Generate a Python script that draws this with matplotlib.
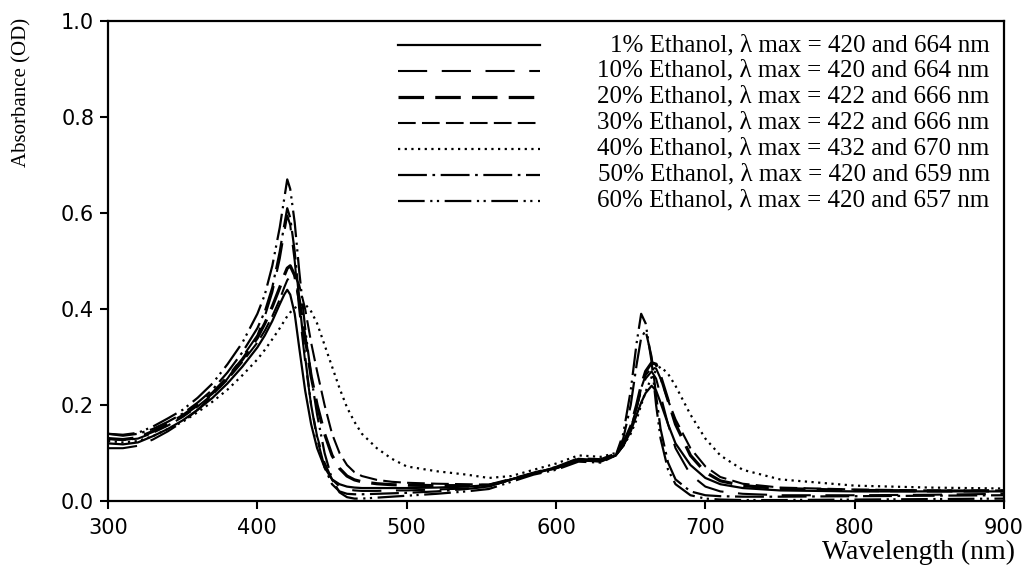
import matplotlib
matplotlib.use("Agg")
import matplotlib.pyplot as plt

# ── Data ────────────────────────────────────────────────────────
WAVELENGTH = [300, 310, 320, 330, 340, 350, 360, 370, 380, 390,
              400, 405, 410, 415, 418, 420, 422, 425, 428, 432,
              436, 440, 445, 450, 455, 460, 465, 470, 480, 490,
              500, 520, 540, 555, 570, 585, 600, 615, 630, 640,
              645, 650, 654, 657, 660, 664, 667, 670, 675, 680,
              690, 700, 710, 725, 750, 800, 850, 900]

ABS_1 = [0.120, 0.118, 0.122, 0.135, 0.150, 0.168, 0.190, 0.215, 0.245, 0.280,
         0.320, 0.345, 0.375, 0.410, 0.430, 0.440, 0.430, 0.390, 0.320, 0.230,
         0.160, 0.110, 0.070, 0.045, 0.035, 0.030, 0.028, 0.027, 0.027, 0.027,
         0.027, 0.028, 0.030, 0.033, 0.045, 0.058, 0.070, 0.085, 0.085, 0.095,
         0.115, 0.145, 0.180, 0.205, 0.225, 0.240, 0.230, 0.205, 0.160, 0.120,
         0.075, 0.048, 0.035, 0.027, 0.022, 0.020, 0.020, 0.020]

ABS_10 = [0.110, 0.110, 0.115, 0.128, 0.145, 0.165, 0.190, 0.220, 0.255, 0.300,
          0.345, 0.385, 0.435, 0.505, 0.560, 0.595, 0.575, 0.500, 0.400, 0.290,
          0.200, 0.135, 0.080, 0.045, 0.030, 0.024, 0.022, 0.021, 0.021, 0.022,
          0.022, 0.024, 0.026, 0.030, 0.045, 0.058, 0.070, 0.088, 0.085, 0.095,
          0.115, 0.150, 0.195, 0.230, 0.255, 0.270, 0.255, 0.220, 0.160, 0.110,
          0.055, 0.030, 0.020, 0.015, 0.012, 0.012, 0.013, 0.015]

ABS_20 = [0.130, 0.128, 0.132, 0.145, 0.160, 0.178, 0.200, 0.225, 0.258, 0.295,
          0.340, 0.370, 0.405, 0.445, 0.470, 0.485, 0.490, 0.470, 0.420, 0.340,
          0.260, 0.200, 0.140, 0.095, 0.068, 0.052, 0.044, 0.040, 0.036, 0.034,
          0.033, 0.032, 0.032, 0.033, 0.045, 0.058, 0.070, 0.088, 0.086, 0.098,
          0.120, 0.155, 0.200, 0.240, 0.270, 0.288, 0.285, 0.260, 0.210, 0.160,
          0.095, 0.060, 0.042, 0.032, 0.026, 0.022, 0.021, 0.021]

ABS_30 = [0.130, 0.127, 0.130, 0.142, 0.157, 0.175, 0.197, 0.222, 0.253, 0.290,
          0.330, 0.355, 0.385, 0.420, 0.445, 0.460, 0.468, 0.470, 0.450, 0.400,
          0.330, 0.270, 0.200, 0.140, 0.100, 0.075, 0.060, 0.052, 0.044, 0.040,
          0.038, 0.036, 0.035, 0.034, 0.045, 0.058, 0.068, 0.085, 0.083, 0.095,
          0.115, 0.150, 0.195, 0.235, 0.262, 0.278, 0.276, 0.255, 0.210, 0.170,
          0.110, 0.072, 0.050, 0.036, 0.028, 0.024, 0.022, 0.022]

ABS_40 = [0.125, 0.122, 0.125, 0.135, 0.150, 0.165, 0.185, 0.207, 0.232, 0.262,
          0.295, 0.315, 0.337, 0.360, 0.375, 0.385, 0.393, 0.402, 0.408, 0.410,
          0.395, 0.370, 0.325, 0.280, 0.235, 0.195, 0.165, 0.140, 0.110, 0.088,
          0.072, 0.062, 0.055, 0.048, 0.052, 0.065, 0.078, 0.095, 0.092, 0.100,
          0.115, 0.140, 0.170, 0.200, 0.228, 0.258, 0.272, 0.280, 0.265, 0.240,
          0.180, 0.130, 0.095, 0.065, 0.045, 0.032, 0.028, 0.026]

ABS_50 = [0.140, 0.136, 0.140, 0.150, 0.165, 0.182, 0.205, 0.232, 0.268, 0.310,
          0.360, 0.395, 0.445, 0.520, 0.575, 0.610, 0.590, 0.520, 0.420, 0.300,
          0.200, 0.130, 0.070, 0.035, 0.020, 0.015, 0.014, 0.014, 0.015, 0.016,
          0.017, 0.020, 0.025, 0.030, 0.045, 0.058, 0.068, 0.085, 0.082, 0.095,
          0.130, 0.200, 0.285, 0.340, 0.355, 0.300, 0.220, 0.150, 0.080, 0.045,
          0.020, 0.012, 0.010, 0.009, 0.009, 0.010, 0.011, 0.012]

ABS_60 = [0.140, 0.138, 0.142, 0.155, 0.172, 0.190, 0.215, 0.245, 0.285, 0.330,
          0.390, 0.430, 0.490, 0.570, 0.630, 0.670, 0.650, 0.580, 0.480, 0.360,
          0.260, 0.180, 0.100, 0.045, 0.018, 0.008, 0.005, 0.005, 0.007, 0.009,
          0.011, 0.015, 0.020, 0.025, 0.040, 0.055, 0.065, 0.082, 0.080, 0.095,
          0.140, 0.230, 0.330, 0.390, 0.370, 0.290, 0.200, 0.130, 0.065, 0.035,
          0.012, 0.005, 0.003, 0.002, 0.002, 0.003, 0.004, 0.005]

ETHANOL   = [1, 10, 20, 30, 40, 50, 60]
SORET_MAX = [420, 420, 422, 422, 432, 420, 420]
Q_MAX     = [664, 664, 666, 666, 670, 659, 657]
SERIES    = [ABS_1, ABS_10, ABS_20, ABS_30, ABS_40, ABS_50, ABS_60]

# ── Style ────────────────────────────────────────────────────────
STYLES = [
    dict(linestyle='-', linewidth=1.6),
    dict(linestyle=(0, (14, 7)), linewidth=1.5),
    dict(linestyle=(0, (8, 3.5)), linewidth=2.3),
    dict(linestyle=(0, (8.5, 3)), linewidth=1.5),
    dict(linestyle=(0, (1, 2)), linewidth=1.6),
    dict(linestyle=(0, (13, 2.5, 1.2, 2.5)), linewidth=1.6),
    dict(linestyle=(0, (12, 2.5, 1, 2, 1, 2.5)), linewidth=1.6),
]
SERIF = ['Liberation Serif', 'DejaVu Serif']
SANS = ['DejaVu Sans']

fig = plt.figure(figsize=(10.26, 5.67), dpi=100)
ax = fig.add_axes([0.1053, 0.1164, 0.8733, 0.8466])

for values, style in zip(SERIES, STYLES):
    ax.plot(WAVELENGTH, values, color='black', **style)

ax.set_xlim(300, 900)
ax.set_ylim(0.0, 1.0)
ax.set_xticks(range(300, 901, 100))
ax.set_yticks([0.0, 0.2, 0.4, 0.6, 0.8, 1.0])
ax.set_yticklabels([f'{v:.1f}' for v in [0.0, 0.2, 0.4, 0.6, 0.8, 1.0]])
ax.tick_params(direction='out', length=6, width=1.5, labelsize=15, pad=4)
ax.tick_params(axis='x', pad=6)
for lab in ax.get_xticklabels() + ax.get_yticklabels():
    lab.set_family(SANS)
for spine in ax.spines.values():
    spine.set_linewidth(1.6)

ax.set_xlabel('Wavelength (nm)', family=SERIF, fontsize=20, ha='right', va='center')
ax.xaxis.set_label_coords(1.012, -0.108)
ax.set_ylabel('Absorbance (OD)', family=SERIF, fontsize=15, va='center', ha='center')
ax.yaxis.set_label_coords(-0.096, 0.852)

# hand-drawn style legend: sample line left, right-aligned text
row_y = 0.95
for pct, s_max, q_max, style in zip(ETHANOL, SORET_MAX, Q_MAX, STYLES):
    ax.plot([0.324, 0.482], [row_y, row_y], transform=ax.transAxes,
            color='black', **style)
    ax.text(0.984, row_y,
            f'{pct}% Ethanol, \u03bb max = {s_max} and {q_max} nm',
            transform=ax.transAxes, ha='right', va='center',
            family=SERIF, fontsize=18)
    row_y -= 0.054

fig.savefig('out.png', dpi=100, facecolor='white')
